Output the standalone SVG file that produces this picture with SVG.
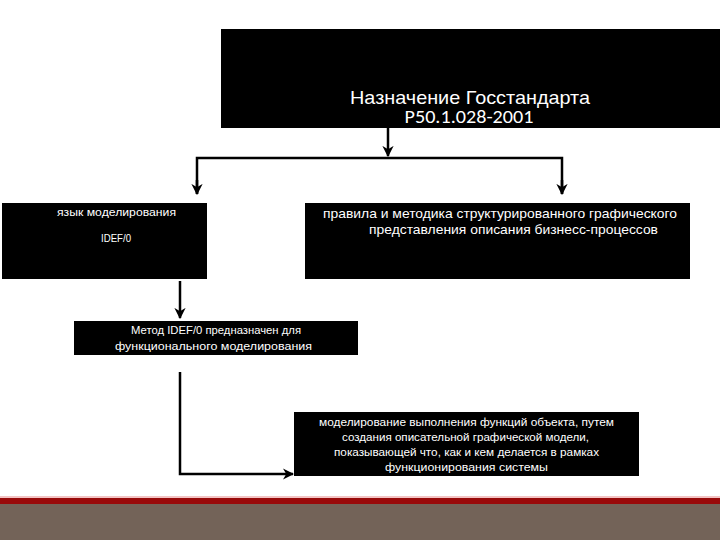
<svg xmlns="http://www.w3.org/2000/svg" width="720" height="540" viewBox="0 0 720 540">
<defs>
<marker id="ah" viewBox="0 0 10 10" refX="9" refY="5" markerWidth="4.5" markerHeight="4.5" markerUnits="strokeWidth" orient="auto">
<path d="M0,0 L10,5 L0,10 L3,5 Z" fill="#000"/>
</marker>
</defs>
<style>
.box{fill:#000;}
.t{fill:#fff;font-family:"Liberation Sans",Arial,sans-serif;}
.c{fill:#fff;font-family:Carlito,Calibri,"Open Sans","Liberation Sans",sans-serif;}
.con{fill:none;stroke:#000;stroke-width:2.5;}
</style>
<rect x="0" y="0" width="720" height="540" fill="#fff"/>
<g id="footer">
<rect x="0" y="496" width="720" height="2" fill="#f3c4c4"/>
<rect x="0" y="498" width="720" height="6" fill="#990a0a"/>
<rect x="0" y="504" width="720" height="36" fill="#736358"/>
</g>
<g id="connectors">
<path class="con" d="M388,128 V156" marker-end="url(#ah)"/>
<path class="con" d="M197,194 V158 H562 V194" />
<path class="con" d="M197,180 V194" marker-end="url(#ah)"/>
<path class="con" d="M562,180 V194" marker-end="url(#ah)"/>
<path class="con" d="M180,281 V318" marker-end="url(#ah)"/>
<path class="con" d="M180,372 V474 H293" marker-end="url(#ah)"/>
</g>
<g id="n-top">
<rect class="box" x="221" y="29" width="499" height="99"/>
<text class="t" x="470" y="104" font-size="19" text-anchor="middle" textLength="240" lengthAdjust="spacingAndGlyphs">Назначение Госстандарта</text>
<text class="c" x="469" y="123" font-size="18" text-anchor="middle" textLength="129" lengthAdjust="spacingAndGlyphs">Р50.1.028-2001</text>
</g>
<g id="n-lang">
<rect class="box" x="2" y="203" width="205" height="76"/>
<text class="t" x="57" y="216" font-size="11" textLength="119" lengthAdjust="spacingAndGlyphs">язык моделирования</text>
<text class="t" x="101" y="242" font-size="11" textLength="30" lengthAdjust="spacingAndGlyphs">IDEF/0</text>
</g>
<g id="n-rules">
<rect class="box" x="305" y="203" width="385" height="76"/>
<text class="t" x="323" y="218" font-size="13.5" textLength="354" lengthAdjust="spacingAndGlyphs">правила и методика структурированного графического</text>
<text class="t" x="369" y="234" font-size="13.5" textLength="289" lengthAdjust="spacingAndGlyphs">представления описания бизнесс-процессов</text>
</g>
<g id="n-method">
<rect class="box" x="74" y="321" width="284" height="34"/>
<text class="t" x="131" y="334" font-size="11.5" textLength="170" lengthAdjust="spacingAndGlyphs">Метод IDEF/0 предназначен для</text>
<text class="t" x="115" y="350" font-size="11.5" textLength="197" lengthAdjust="spacingAndGlyphs">функционального моделирования</text>
</g>
<g id="n-model">
<rect class="box" x="294" y="412" width="345" height="64"/>
<text class="t" x="319" y="426" font-size="11.5" textLength="295" lengthAdjust="spacingAndGlyphs">моделирование выполнения функций объекта, путем</text>
<text class="t" x="342" y="441" font-size="11.5" textLength="247" lengthAdjust="spacingAndGlyphs">создания описательной графической модели,</text>
<text class="t" x="334" y="456" font-size="11.5" textLength="265" lengthAdjust="spacingAndGlyphs">показывающей что, как и кем делается в рамках</text>
<text class="t" x="385" y="471" font-size="11.5" textLength="163" lengthAdjust="spacingAndGlyphs">функционирования системы</text>
</g>
</svg>
